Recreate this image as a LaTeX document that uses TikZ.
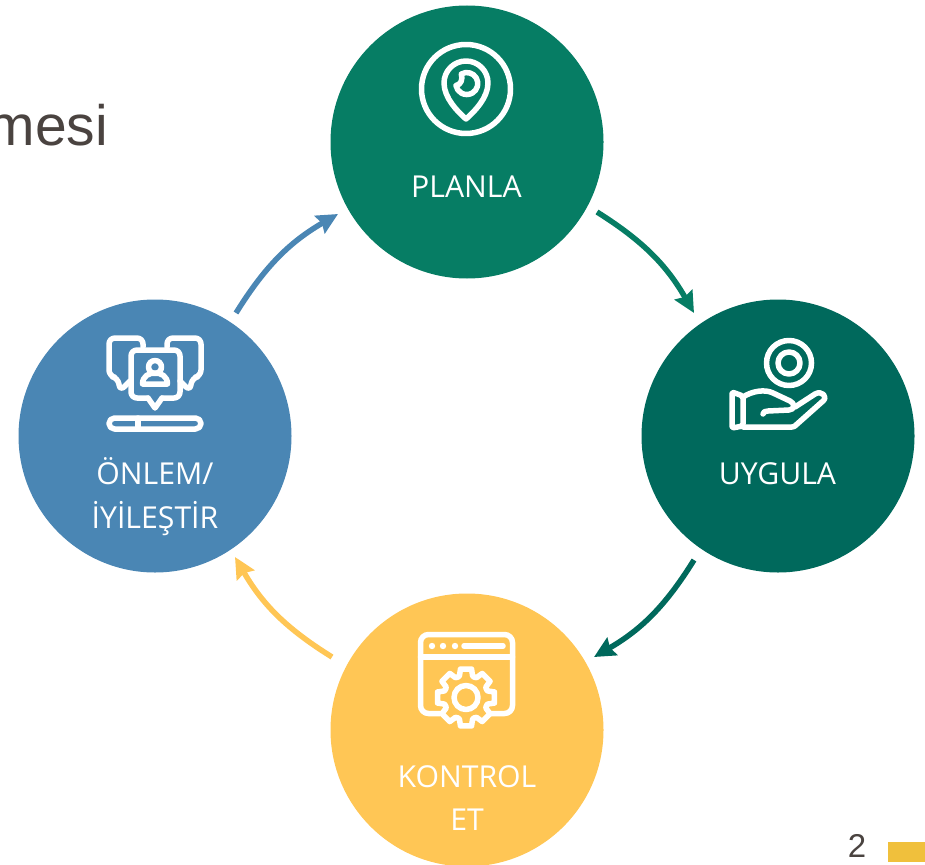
\documentclass[tikz,border=0pt]{standalone}
\usepackage{fontspec}
\setmainfont{Open Sans}
\newfontfamily\arialfont{Liberation Sans}
\usetikzlibrary{arrows.meta}
\definecolor{planGreen}{HTML}{067D64}
\definecolor{doGreen}{HTML}{00695C}
\definecolor{checkYellow}{HTML}{FFC655}
\definecolor{actBlue}{HTML}{4A86B4}
\definecolor{pageGray}{HTML}{4A4340}
\definecolor{tabYellow}{HTML}{F0C03C}
\begin{document}
\begin{tikzpicture}[
                    x=1pt,
                    y=-1pt,
                    >={Stealth[length=21pt,width=20pt,inset=2.5pt]},
                    line width=5.5pt,
                    auto
                ]
                \tikzstyle{every node}=[outer sep=0pt]
                \tikzstyle{phase}=[circle,minimum size=273pt,inner sep=0pt,draw=none]
                \tikzstyle{phasetext}=[text=white,align=center,inner sep=0pt,font=\fontsize{30.2}{43.5}\selectfont]
                \tikzstyle{icon}=[draw=white,line width=5.5pt,line join=round,line cap=round]

                \useasboundingbox (0,0) rectangle (925,864);

                \node[phase,fill=planGreen] (P) at (467,142) {};
                \node[phase,fill=doGreen] (U) at (778,436) {};
                \node[phase,fill=checkYellow] (K) at (467,730) {};
                \node[phase,fill=actBlue] (O) at (155,436) {};

                \node[phasetext] (Pt) at (466.5,186.5) {PLANLA};
                \node[phasetext] (Ut) at (777.5,474) {UYGULA};
                \node[phasetext] (Kt) at (467,798) {KONTROL\\ET};
                \node[phasetext] (Ot) at (155,496.5) {ÖNLEM/\\İYİLEŞTİR};

                \coordinate (P1) at (597,212);
                \coordinate (U0) at (694,313);
                \coordinate (U1) at (694,560);
                \coordinate (K0) at (594,657);
                \coordinate (K1) at (332,657);
                \coordinate (O0) at (235,557);
                \coordinate (O1) at (236,313);
                \coordinate (P0) at (338,214);

                \path[->]
                (P1) edge[bend left=14,draw=planGreen] (U0)
                (U1) edge[bend left=14,draw=doGreen] (K0)
                (K1) edge[bend left=14,draw=checkYellow] (O0)
                (O1) edge[bend left=14,draw=actBlue] (P0)
                ;

                % pin
                \draw[icon] (466,89) circle (44.5);
                \draw[icon] (466,119) .. controls (458,112) and (444,98) .. (444,83)
                    arc[start angle=180,end angle=360,radius=22]
                    .. controls (488,98) and (474,112) .. (466,119);
                \draw[icon] (461.3,74) arc[start angle=-120,end angle=170,radius=11]
                    .. controls (461,85) and (463,79) .. (461.3,74);

                % hand and coin
                \draw[icon] (789,363) circle (22.5);
                \draw[icon] (789,363) circle (11);
                \draw[icon,rounded corners=2pt] (743,396) -- (732,392) -- (732,428) -- (743,426) -- cycle;
                \draw[icon] (743,397) .. controls (752,391) and (765,389) .. (773,393)
                    -- (790,401) .. controls (795,403) and (795,410) .. (789,410)
                    -- (768,411) .. controls (765,411) and (763,412) .. (763,414);
                \draw[icon] (795,407) -- (815,394) .. controls (822,390) and (828,397) .. (823,401)
                    -- (796,425) .. controls (795,426) and (794,427) .. (792,427) -- (743,427);

                % speech bubbles
                \draw[icon,rounded corners=6pt] (143,347) -- (143,338) -- (109,338) -- (109,376) -- (118,378) -- (120,391) -- (130,381);
                \draw[icon,rounded corners=6pt] (167,347) -- (167,338) -- (201,338) -- (201,376) -- (192,378) -- (190,391) -- (180,381);
                \draw[icon,rounded corners=6pt] (148,398) -- (131,398) -- (131,350) -- (180,350) -- (180,398) -- (162,398);
                \draw[icon] (148,398) -- (155,408) -- (162,398);
                \draw[icon] (155,367) circle (6.5);
                \draw[icon] (142.5,384) .. controls (142.5,376) and (149,373) .. (155,373)
                    .. controls (161,373) and (167.5,376) .. (167.5,384) -- cycle;
                \draw[icon,rounded corners=5.5pt] (109,418) rectangle (201,429);
                \draw[icon] (138,418) -- (138,429);

                % window and gear
                \draw[icon,rounded corners=8pt] (440,713.5) -- (420.5,713.5) -- (420.5,634.5) -- (512.5,634.5) -- (512.5,713.5) -- (491,713.5);
                \draw[icon] (420.5,657) -- (512.5,657);
                \draw[icon] (464,646) -- (503,646);
                \foreach \dotx in {432,443,455}
                    \fill[white] (\dotx,646) circle (3.2);
                \begin{scope}[shift={(466,697.5)}]
                    \draw[icon] (0,0) circle (12);
                    \foreach \a in {0,45,...,315}
                        \draw[icon] (\a-22.5:22) -- (\a-17:22.5) -- (\a-11:29) -- (\a+11:29) -- (\a+17:22.5) -- (\a+22.5:22);
                \end{scope}

                \node[font=\arialfont\fontsize{57}{57}\selectfont,text=pageGray,anchor=base east,inner sep=0pt] (title) at (108,145) {mesi};
                \node[font=\arialfont\fontsize{33}{33}\selectfont,text=pageGray,anchor=base,inner sep=0pt] (pagenum) at (857,857) {2};
                \node[fill=tabYellow,draw=none,inner sep=0pt,minimum width=37pt,minimum height=20pt,anchor=north west] (tab) at (888,842) {};

            \end{tikzpicture}
\end{document}
